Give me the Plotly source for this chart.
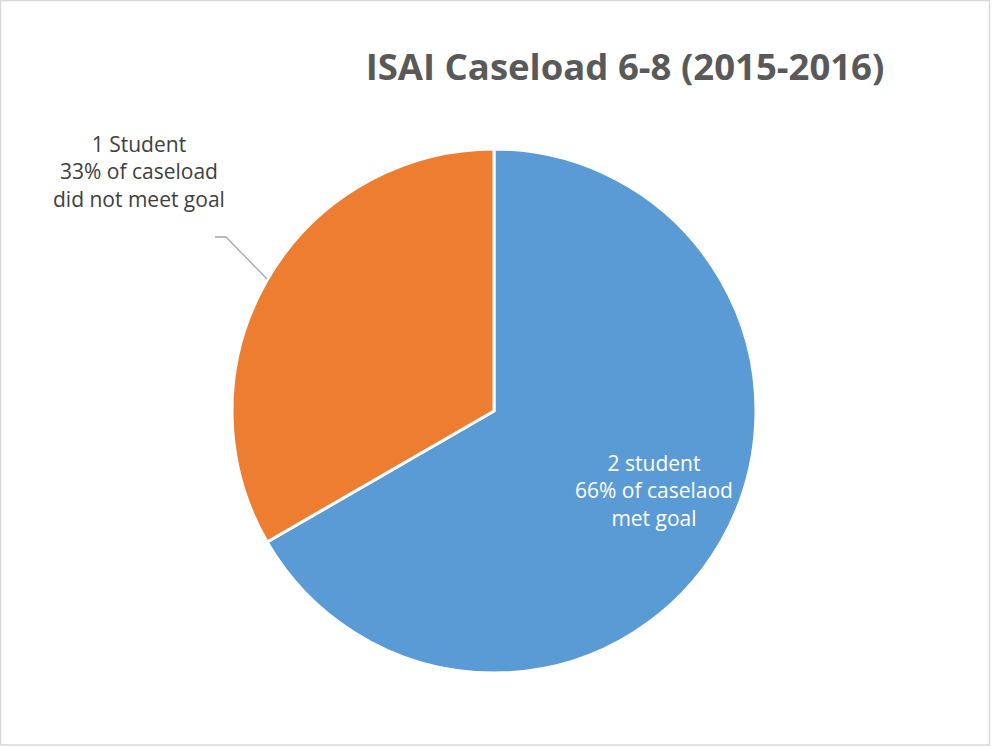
import plotly.graph_objects as go

# Caseload outcome data
categories = ["Met goal", "Did not meet goal"]
students = [2, 1]
colors = ["#5B9BD5", "#ED7D31"]
label_text = [
    "2 student<br>66% of caselaod<br>met goal",
    "1 Student<br>33% of caseload<br>did not meet goal",
]

W, H = 992, 747


def px(x):
    return x / W


def py(y):
    return 1 - y / H


cx, cy, r = 494, 411, 262

fig = go.Figure(
    go.Pie(
        labels=categories,
        values=students,
        sort=False,
        direction="clockwise",
        rotation=0,
        marker=dict(colors=colors, line=dict(color="white", width=3)),
        textinfo="none",
        hoverinfo="label+value+percent",
        showlegend=False,
        domain=dict(x=[px(cx - r), px(cx + r)], y=[py(cy + r), py(cy - r)]),
    )
)

font_family = "Open Sans, Lato, sans-serif"

fig.add_annotation(
    x=px(654), y=py(490), xref="paper", yref="paper",
    xanchor="center", yanchor="middle",
    text=label_text[0], showarrow=False, align="center",
    font=dict(family=font_family, size=21, color="white"),
)
fig.add_annotation(
    x=px(139), y=py(172), xref="paper", yref="paper",
    xanchor="center", yanchor="middle",
    text=label_text[1], showarrow=False, align="center",
    font=dict(family=font_family, size=21, color="#404040"),
)

# leader line for the outside label
fig.add_shape(
    type="path", xref="paper", yref="paper",
    path=f"M {px(215)} {py(237)} L {px(226)} {py(237)} L {px(267)} {py(279)}",
    line=dict(color="#A6A6A6", width=1.3),
)

# chart area border
fig.add_shape(
    type="rect", xref="paper", yref="paper",
    x0=px(0.5), y0=py(745), x1=px(989.5), y1=py(0.5),
    line=dict(color="#D9D9D9", width=1.5),
)

fig.update_layout(
    width=W, height=H,
    margin=dict(l=0, r=0, t=0, b=0),
    paper_bgcolor="white",
    plot_bgcolor="white",
    title=dict(
        text="<b>ISAI Caseload 6-8 (2015-2016)</b>",
        x=px(625), y=py(67), xanchor="center", yanchor="middle",
        font=dict(family=font_family, size=36.5, color="#595959"),
    ),
)

fig.write_html("out.html")
